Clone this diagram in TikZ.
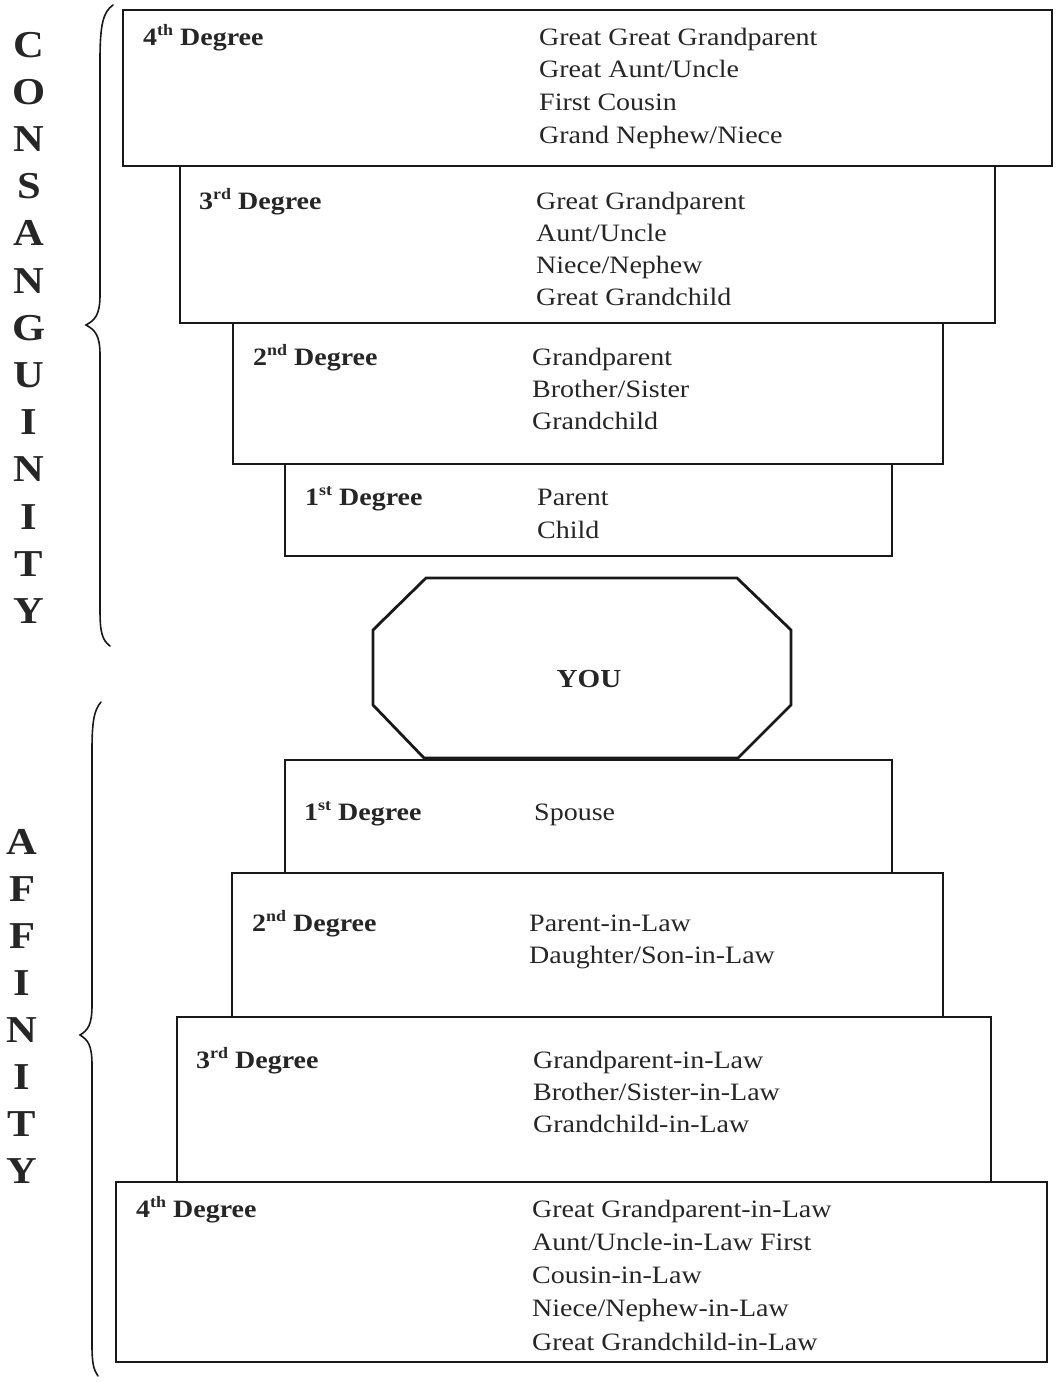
\documentclass[tikz,border=0pt]{standalone}
\usepackage{fontspec}
\setmainfont{Liberation Serif}
\begin{document}
\begin{tikzpicture}[x=1pt,y=-1pt,
  box/.style={draw=black!90, line width=1.6pt, anchor=north west, inner sep=0pt},
  item/.style={anchor=base west, inner sep=0pt, text=black!85, font=\fontsize{25}{30}\selectfont},
  deg/.style={anchor=base west, inner sep=0pt, text=black!85, font=\fontsize{25}{30}\selectfont\bfseries},
  side/.style={anchor=base, inner sep=0pt, text=black!85, font=\fontsize{38}{40}\selectfont\bfseries},
  brace/.style={draw=black!90, line width=1.6pt, line cap=round}]
\useasboundingbox (0,0) rectangle (1057,1382);
\newcommand{\xs}[1]{\scalebox{1.12}[1]{#1}}
\newcommand{\sups}[1]{\raisebox{0.85ex}{\fontsize{16}{16}\selectfont #1}}
% consanguinity boxes
\node[box, minimum width=929pt, minimum height=156pt] (c4) at (122,9) {};
\node[box, minimum width=815pt, minimum height=157pt] (c3) at (179,165) {};
\node[box, minimum width=710pt, minimum height=141pt] (c2) at (232,322) {};
\node[box, minimum width=607pt, minimum height=92pt] (c1) at (284,463) {};
% affinity boxes
\node[box, minimum width=607pt, minimum height=113pt] (a1) at (284,759) {};
\node[box, minimum width=711pt, minimum height=144pt] (a2) at (231,872) {};
\node[box, minimum width=814pt, minimum height=165pt] (a3) at (176,1016) {};
\node[box, minimum width=931pt, minimum height=180pt] (a4) at (115,1181) {};
% YOU octagon
\draw[draw=black!90, line width=2.8pt, line join=miter]
  (426,578) -- (737,578) -- (791,630) -- (791,705) -- (738,758) -- (424,758) -- (373,705) -- (373,630) -- cycle;
\node[anchor=base, inner sep=0pt, text=black!85, font=\fontsize{26}{30}\selectfont\bfseries] (you) at (589,687) {\xs{YOU}};
% degree labels
\node[deg] (c4d) at (143,45) {\xs{4\sups{th} Degree}};
\node[deg] (c3d) at (199,209) {\xs{3\sups{rd} Degree}};
\node[deg] (c2d) at (253,365) {\xs{2\sups{nd} Degree}};
\node[deg] (c1d) at (305,505) {\xs{1\sups{st} Degree}};
\node[deg] (a1d) at (304,820) {\xs{1\sups{st} Degree}};
\node[deg] (a2d) at (252,931) {\xs{2\sups{nd} Degree}};
\node[deg] (a3d) at (196,1068) {\xs{3\sups{rd} Degree}};
\node[deg] (a4d) at (136,1217) {\xs{4\sups{th} Degree}};
% items
\foreach \t [count=\i] in {{Great Great Grandparent},{Great Aunt/Uncle},{First Cousin},{Grand Nephew/Niece}}
  \node[item] (c4l\i) at (539,{45+32.7*(\i-1)}) {\xs{\t}};
\foreach \t [count=\i] in {{Great Grandparent},{Aunt/Uncle},{Niece/Nephew},{Great Grandchild}}
  \node[item] (c3l\i) at (536,{209+32*(\i-1)}) {\xs{\t}};
\foreach \t [count=\i] in {{Grandparent},{Brother/Sister},{Grandchild}}
  \node[item] (c2l\i) at (532,{365+32*(\i-1)}) {\xs{\t}};
\foreach \t [count=\i] in {{Parent},{Child}}
  \node[item] (c1l\i) at (537,{505+33*(\i-1)}) {\xs{\t}};
\node[item] (a1l1) at (534,820) {\xs{Spouse}};
\foreach \t [count=\i] in {{Parent-in-Law},{Daughter/Son-in-Law}}
  \node[item] (a2l\i) at (529,{931+32*(\i-1)}) {\xs{\t}};
\foreach \t [count=\i] in {{Grandparent-in-Law},{Brother/Sister-in-Law},{Grandchild-in-Law}}
  \node[item] (a3l\i) at (533,{1068+32*(\i-1)}) {\xs{\t}};
\foreach \t [count=\i] in {{Great Grandparent-in-Law},{Aunt/Uncle-in-Law First},{Cousin-in-Law},{Niece/Nephew-in-Law},{Great Grandchild-in-Law}}
  \node[item] (a4l\i) at (532,{1217+33.25*(\i-1)}) {\xs{\t}};
% side words
\foreach \l [count=\i] in {C,O,N,S,A,N,G,U,I,N,I,T,Y}
  \node[side] (cs\i) at (29,{57+47.2*(\i-1)}) {\xs{\l}};
\foreach \l [count=\i] in {A,F,F,I,N,I,T,Y}
  \node[side] (af\i) at (22,{854+47.1*(\i-1)}) {\xs{\l}};
% braces
\draw[brace] (113,5) .. controls (103,12) and (100,25) .. (100,60) -- (100,295)
  .. controls (100,315) and (95,320) .. (86,325) .. controls (95,330) and (100,335) .. (100,355)
  -- (100,610) .. controls (100,632) and (102,640) .. (110,646);
\draw[brace] (101,702) .. controls (94,710) and (92,722) .. (92,750) -- (92,1005)
  .. controls (92,1025) and (88,1030) .. (80,1035) .. controls (88,1040) and (92,1045) .. (92,1065)
  -- (92,1345) .. controls (92,1365) and (94,1370) .. (98,1376);
\end{tikzpicture}
\end{document}
